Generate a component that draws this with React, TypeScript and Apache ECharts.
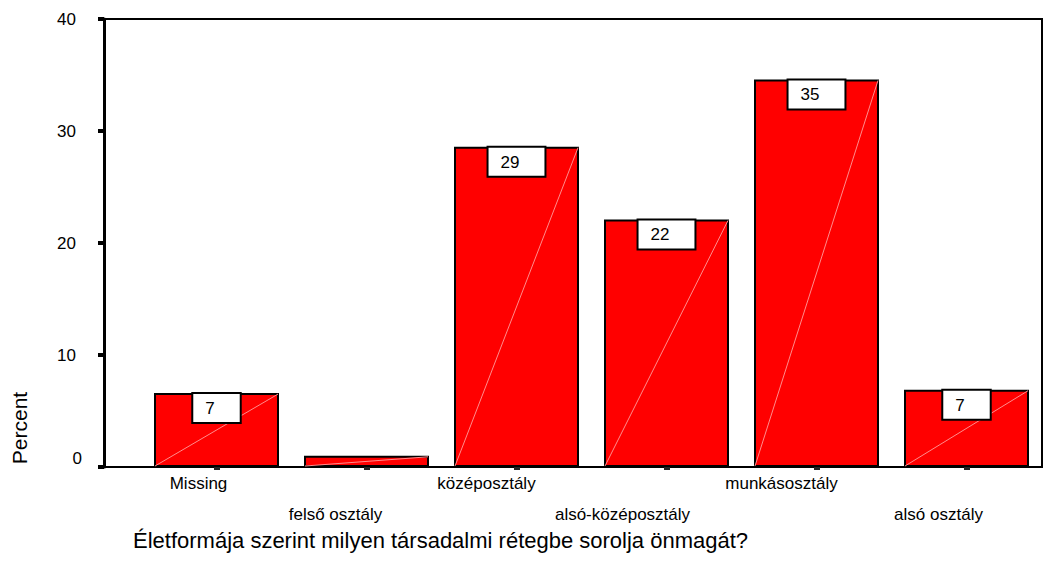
import React, { useEffect, useRef } from "react";
import * as echarts from "echarts";

const categories = [
  "Missing",
  "felső osztály",
  "középosztály",
  "alsó-középosztály",
  "munkásosztály",
  "alsó osztály",
];
const percentValues = [6.6, 1.0, 28.6, 22.1, 34.6, 6.9];
const yTicks = { min: 0, max: 40, interval: 10 };
const xTitle = "Életformája szerint milyen társadalmi rétegbe sorolja önmagát?";
const yTitle = "Percent";

// styling: how far each category label sits left of its tick (px)
const labelShift = [18, 31, 30, 44, 35, 28];

const FONT = "'Liberation Sans', Arial, sans-serif";
const BAR_RATIO = 125 / 150;

export default function App() {
  const ref = useRef<HTMLDivElement>(null);

  useEffect(() => {
    if (!ref.current) return;
    const chart = echarts.init(ref.current, undefined, { renderer: "svg" });

    const rich: Record<string, any> = {};
    categories.forEach((_, i) => {
      rich["c" + i] = {
        fontSize: 17,
        fontFamily: FONT,
        color: "#000",
        lineHeight: 17,
        padding: [i % 2 === 1 ? 62 : 0, labelShift[i] * 2, 0, 0],
      };
    });

    const option: any = {
      animation: false,
      backgroundColor: "#fff",
      title: {
        text: xTitle,
        left: 128,
        top: 524,
        textStyle: {
          fontSize: 22,
          fontWeight: "normal",
          color: "#000",
          fontFamily: FONT,
          lineHeight: 22,
        },
      },
      graphic: [
        {
          type: "text",
          x: 19.5,
          y: 428,
          rotation: Math.PI / 2,
          style: {
            text: yTitle,
            fontSize: 21,
            fontFamily: FONT,
            fill: "#000",
            align: "center",
            verticalAlign: "middle",
          },
        },
      ],
      grid: [
        { left: 141.5, width: 900, top: 19, bottom: 111 },
        {
          left: 104,
          right: 22,
          top: 19,
          bottom: 111,
          show: true,
          borderColor: "#000",
          borderWidth: 2,
          backgroundColor: "transparent",
        },
      ],
      xAxis: [
        {
          type: "category",
          gridIndex: 0,
          data: categories,
          axisLine: { show: true, lineStyle: { color: "#000", width: 2 } },
          axisTick: {
            show: true,
            alignWithLabel: true,
            length: 3,
            lineStyle: { color: "#222", width: 6 },
          },
          axisLabel: {
            interval: 0,
            margin: 8,
            formatter: (v: string, i: number) => `{c${i}|${v}}`,
            rich,
          },
        },
        { type: "value", gridIndex: 1, show: false },
      ],
      yAxis: [
        {
          type: "value",
          gridIndex: 0,
          min: yTicks.min,
          max: yTicks.max,
          interval: yTicks.interval,
          offset: 37.5,
          axisLine: { show: true, lineStyle: { color: "#000", width: 3 } },
          axisTick: { show: true, length: 6, lineStyle: { color: "#000", width: 4 } },
          splitLine: { show: false },
          axisLabel: {
            margin: 22,
            formatter: (v: number) => (v === 0 ? `{z|${v}}` : `{n|${v}}`),
            rich: {
              n: { fontSize: 17, fontFamily: FONT, color: "#000", padding: [0, 6, 0, 0] },
              z: { fontSize: 17, fontFamily: FONT, color: "#000", padding: [0, 0, 18, 0] },
            },
          },
        },
        { type: "value", gridIndex: 1, show: false, min: 0, max: 40 },
      ],
      series: [
        {
          type: "bar",
          xAxisIndex: 0,
          yAxisIndex: 0,
          barWidth: "83.33%",
          z: 2,
          data: percentValues,
          itemStyle: { color: "#ff0000", borderColor: "#000", borderWidth: 2 },
        },
        {
          type: "custom",
          xAxisIndex: 0,
          yAxisIndex: 0,
          z: 3,
          data: percentValues.map((v, i) => [i, v]),
          encode: { x: 0, y: 1 },
          renderItem: (_params: any, api: any) => {
            const i = api.value(0);
            const v = api.value(1);
            const top = api.coord([i, v]);
            const bot = api.coord([i, 0]);
            const w = api.size([1, 0])[0] * BAR_RATIO - 2;
            return {
              type: "line",
              shape: { x1: bot[0] - w / 2, y1: bot[1] - 1, x2: top[0] + w / 2, y2: top[1] + 1 },
              style: { stroke: "#ff8c8c", lineWidth: 1 },
            };
          },
        },
        {
          type: "bar",
          xAxisIndex: 0,
          yAxisIndex: 0,
          barWidth: "83.33%",
          barGap: "-100%",
          z: 4,
          itemStyle: { color: "transparent", borderWidth: 0 },
          data: percentValues.map((v) => ({ value: v, label: { show: v >= 2 } })),
          label: {
            show: true,
            position: "insideTop",
            distance: 1,
            formatter: (p: any) => String(Math.round(p.value)),
            fontSize: 17,
            fontFamily: FONT,
            color: "#000",
            lineHeight: 17,
            backgroundColor: "#fff",
            borderColor: "#000",
            borderWidth: 2,
            padding: [6, 25, 5, 12],
          },
        },
      ],
    };

    chart.setOption(option);
    return () => chart.dispose();
  }, []);

  return <div ref={ref} style={{ width: 1064, height: 578, margin: -8 }} />;
}
